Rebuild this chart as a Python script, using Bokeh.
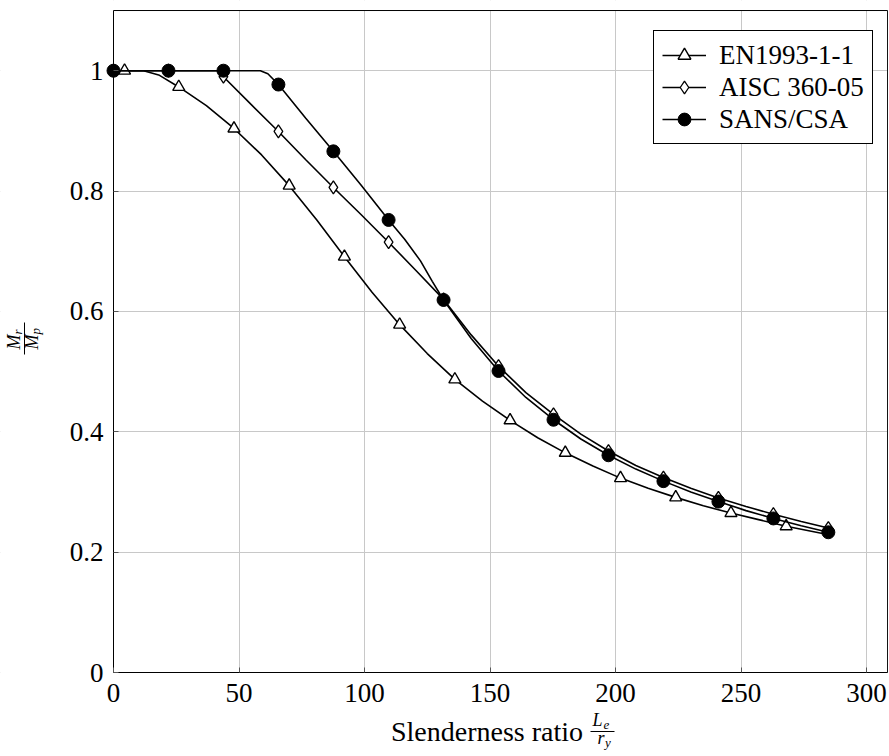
import math
from bokeh.plotting import figure
from bokeh.models import (Range1d, FixedTicker, LinearAxis, Legend, LegendItem, Label,
                          Arrow, BoxAnnotation)
from bokeh.embed import file_html
from bokeh.resources import INLINE

# ---------------- data ----------------
x_ticks = [0, 50, 100, 150, 200, 250, 300]
y_ticks = [0, 0.2, 0.4, 0.6, 0.8, 1.0]
y_tick_labels = ["0", "0.2", "0.4", "0.6", "0.8", "1"]

series_names = ["EN1993-1-1", "AISC 360-05", "SANS/CSA"]

en_line_x = [0, 4.4, 12, 18, 26, 37, 48, 59, 70, 81, 92, 103, 114, 125, 136, 147,
             158, 169, 180, 191, 202, 213, 224, 235, 246, 257, 268, 276.5, 285]
en_line_y = [1.0, 1.0, 1.0, 0.993, 0.973, 0.942, 0.904, 0.860, 0.809, 0.752, 0.691,
             0.632, 0.578, 0.530, 0.487, 0.451, 0.419, 0.390, 0.365, 0.343, 0.323,
             0.306, 0.291, 0.277, 0.265, 0.254, 0.243, 0.236, 0.229]
en_mark_x = [4.4, 26, 48, 70, 92, 114, 136, 158, 180, 202, 224, 246, 268]
en_mark_y = [1.0, 0.973, 0.904, 0.809, 0.691, 0.578, 0.487, 0.419, 0.365, 0.323,
             0.291, 0.265, 0.243]

aisc_line_x = [0, 21.9, 41.4, 43.8, 54.8, 65.7, 76.6, 87.6, 98.6, 109.6, 120.5, 131.5,
               142.5, 153.4, 164.3, 175.3, 186.2, 197.2, 208.1, 219.1, 230, 241, 252,
               262.9, 274, 284.8]
aisc_line_y = [1.0, 1.0, 1.0, 0.99, 0.944, 0.899, 0.852, 0.806, 0.761, 0.715, 0.668,
               0.620, 0.561, 0.509, 0.465, 0.429, 0.396, 0.368, 0.344, 0.324, 0.306,
               0.290, 0.276, 0.263, 0.251, 0.240]

mark_x = [0, 21.9, 43.8, 65.7, 87.6, 109.6, 131.5, 153.4, 175.3, 197.2, 219.1, 241,
          262.9, 284.8]
aisc_mark_y = [1.0, 1.0, 0.99, 0.899, 0.806, 0.715, 0.620, 0.509, 0.429, 0.368, 0.324,
               0.290, 0.263, 0.240]

sans_line_x = [0, 21.9, 43.8, 58.5, 61.5, 65.7, 76.6, 87.6, 98.6, 109.6, 116, 122.3,
               127, 131.5, 142.5, 153.4, 164.3, 175.3, 186.2, 197.2, 208.1, 219.1, 230,
               241, 252, 262.9, 274, 284.8]
sans_line_y = [1.0, 1.0, 1.0, 1.0, 0.995, 0.977, 0.921, 0.866, 0.810, 0.752, 0.720,
               0.684, 0.650, 0.619, 0.555, 0.501, 0.457, 0.420, 0.388, 0.361, 0.338,
               0.318, 0.300, 0.284, 0.269, 0.256, 0.244, 0.233]
sans_mark_y = [1.0, 1.0, 1.0, 0.977, 0.866, 0.752, 0.619, 0.501, 0.420, 0.361, 0.318,
               0.284, 0.256, 0.233]

# ---------------- geometry ----------------
FONT = "Liberation Serif"
W, H = 888, 755
FL, FB = 113.0, 672.0          # pixel position of the (0, 0) corner
XPX, YPX = 2.51, 601.8         # pixels per data unit
X_BOX, Y_BOX = 308.4, 1.1      # axis box extent (data)

X0, X1 = -FL / XPX, (W - FL) / XPX
Y0, Y1 = -(H - FB) / YPX, FB / YPX

p = figure(width=W, height=H, output_backend="svg", toolbar_location=None,
           x_range=Range1d(X0, X1), y_range=Range1d(Y0, Y1),
           x_axis_location=None, y_axis_location=None, min_border=0)
p.background_fill_color = "white"
p.border_fill_color = "white"
p.outline_line_color = None

# grid
p.xgrid.ticker = FixedTicker(ticks=x_ticks)
p.ygrid.ticker = FixedTicker(ticks=y_ticks)
for g in (p.xgrid, p.ygrid):
    g.grid_line_color = "#c8c8c8"
    g.grid_line_width = 1

# white covers outside the axis box (hide grid beyond the box)
for kw in (dict(right=0), dict(top=0), dict(bottom=Y_BOX), dict(left=X_BOX)):
    p.add_layout(BoxAnnotation(fill_color="white", fill_alpha=1, line_alpha=0,
                               level="underlay", **kw))
# axis box
p.add_layout(BoxAnnotation(left=0, right=X_BOX, bottom=0, top=Y_BOX, fill_alpha=0,
                           line_color="black", line_width=1, line_alpha=1,
                           level="underlay"))

# axes fixed at x=0 / y=0
xax = LinearAxis(fixed_location=0, bounds=(0, X_BOX), ticker=FixedTicker(ticks=x_ticks))
yax = LinearAxis(fixed_location=0, bounds=(0, Y_BOX), ticker=FixedTicker(ticks=y_ticks))
yax.major_label_overrides = {t: s for t, s in zip(y_ticks, y_tick_labels)}
for ax in (xax, yax):
    ax.major_label_text_font = FONT
    ax.major_label_text_font_size = "27px"
    ax.major_label_text_color = "black"
    ax.axis_line_color = None
    ax.major_tick_in = 5
    ax.major_tick_out = 0
    ax.major_tick_line_color = "#555555"
    ax.minor_tick_line_color = None
xax.major_label_standoff = 11
yax.major_label_standoff = 10
p.add_layout(xax, "below")
p.add_layout(yax, "left")

# curves
LW = 1.6
l1 = p.line(en_line_x, en_line_y, line_color="black", line_width=LW)
s1 = p.scatter(en_mark_x, en_mark_y, marker="triangle", size=12, fill_color="white",
               line_color="black", line_width=1.4)
l2 = p.line(aisc_line_x, aisc_line_y, line_color="black", line_width=LW)
s2 = p.scatter(mark_x, aisc_mark_y, marker="diamond", size=13, fill_color="white",
               line_color="black", line_width=1.3)
l3 = p.line(sans_line_x, sans_line_y, line_color="black", line_width=LW)
s3 = p.scatter(mark_x, sans_mark_y, marker="circle", size=13, fill_color="black",
               line_color="black", line_width=1)

legend = Legend(items=[LegendItem(label=series_names[0], renderers=[l1, s1]),
                       LegendItem(label=series_names[1], renderers=[l2, s2]),
                       LegendItem(label=series_names[2], renderers=[l3, s3])],
                location=(653, 611))
legend.label_text_font = FONT
legend.label_text_font_size = "27px"
legend.label_text_color = "black"
legend.border_line_color = "black"
legend.border_line_width = 1
legend.border_line_alpha = 1
legend.background_fill_color = "white"
legend.background_fill_alpha = 1
legend.glyph_width = 44
legend.glyph_height = 32
legend.label_height = 32
legend.label_standoff = 13
legend.padding = 8
legend.spacing = 0
legend.margin = 0
p.add_layout(legend)


# ---------------- axis labels (built from text pieces) ----------------
def dx(px):
    return (px - FL) / XPX


def dy(py):
    return (FB - py) / YPX


K = 0.35   # correction: rendered baseline sits ~0.35 em below the anchor


def lab(px, py, text, size, italic=False, align="left", rotated=False):
    if rotated:
        px = px - K * size
    else:
        py = py - K * size
    p.add_layout(Label(x=dx(px), y=dy(py), text=text, text_font=FONT,
                       text_font_size=f"{size}px", text_color="black",
                       text_font_style="italic" if italic else "normal",
                       text_align=align, text_baseline="alphabetic",
                       angle=math.pi / 2 if rotated else 0.0))


def bar(x0, y0, x1, y1):
    p.add_layout(Arrow(x_start=dx(x0), y_start=dy(y0), x_end=dx(x1), y_end=dy(y1),
                       start=None, end=None, line_color="black", line_width=1))


# x label: "Slenderness ratio  L_e / r_y"
lab(486.5, 741, "Slenderness ratio", 28, align="center")
lab(592, 726, "L", 18, italic=True)
lab(603, 729, "e", 13, italic=True)
bar(590, 731, 614, 731)
lab(597, 744, "r", 18, italic=True)
lab(604.5, 747, "y", 13, italic=True)

# y label: M_r / M_p  (rotated, reads bottom to top)
lab(20, 349, "M", 18, italic=True, rotated=True)
lab(21.5, 334, "r", 13, italic=True, rotated=True)
bar(24, 322, 24, 354)
lab(38, 349, "M", 18, italic=True, rotated=True)
lab(39.5, 334, "p", 13, italic=True, rotated=True)

open("out.html", "w").write(file_html(p, INLINE))
